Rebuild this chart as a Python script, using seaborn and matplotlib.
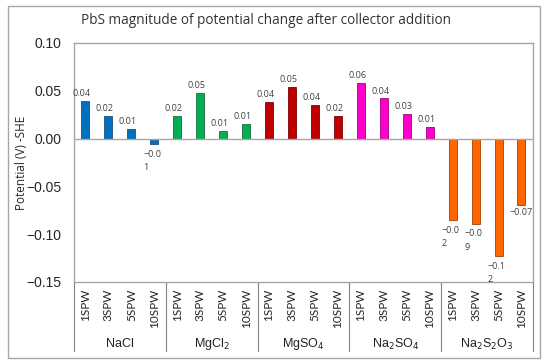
import matplotlib
matplotlib.use("Agg")
import matplotlib.pyplot as plt
from matplotlib.patches import Rectangle
import seaborn as sns
import pandas as pd

salts = ["NaCl", "MgCl$_2$", "MgSO$_4$", "Na$_2$SO$_4$", "Na$_2$S$_2$O$_3$"]
waters = ["1SPW", "3SPW", "5SPW", "10SPW"]
nacl = [0.039, 0.024, 0.0105, -0.006]
mgcl2 = [0.024, 0.048, 0.008, 0.015]
mgso4 = [0.038, 0.054, 0.035, 0.024]
na2so4 = [0.058, 0.042, 0.026, 0.0125]
na2s2o3 = [-0.085, -0.089, -0.123, -0.069]
labels = ["0.04", "0.02", "0.01", "\u22120.0\n1",
          "0.02", "0.05", "0.01", "0.01",
          "0.04", "0.05", "0.04", "0.02",
          "0.06", "0.04", "0.03", "0.01",
          "\u22120.0\n2", "\u22120.0\n9", "\u22120.1\n2", "\u22120.07"]
colors = ["#0070C0", "#00B050", "#C00000", "#FF00CC", "#FF6600"]
edges = ["#1F4E79", "#1E6B3A", "#7F0000", "#A0007F", "#A04000"]

values = nacl + mgcl2 + mgso4 + na2so4 + na2s2o3
df = pd.DataFrame({
    "pos": [f"{s}|{w}" for s in salts for w in waters],
    "salt": [s for s in salts for w in waters],
    "value": values,
})

sns.set_style("white")
plt.rcParams["font.family"] = ["Open Sans", "DejaVu Sans"]

fig = plt.figure(figsize=(5.5, 3.64), dpi=100)
ax = fig.add_axes([0.1345, 0.2253, 0.8345, 0.6567])

sns.barplot(data=df, x="pos", y="value", hue="salt", palette=colors,
            dodge=False, width=0.35, saturation=1, legend=False, ax=ax)
for i, bar in enumerate(ax.patches):
    bar.set_edgecolor(edges[i // 4])
    bar.set_linewidth(0.6)

ax.set_ylim(-0.15, 0.10)
ax.set_xlim(-0.5, len(values) - 0.5)
ax.set_yticks([0.10, 0.05, 0.00, -0.05, -0.10, -0.15])
ax.set_yticklabels(["0.10", "0.05", "0.00", "\u22120.05", "\u22120.10", "\u22120.15"],
                   family="Liberation Sans", fontsize=10)
ax.tick_params(axis="y", length=0, pad=9)
ax.axhline(0, color="#A6A6A6", lw=1)

ax.set_xticks(range(len(values)))
ax.set_xticklabels(waters * len(salts), rotation=90, fontsize=8.5, family="Lato")
ax.tick_params(axis="x", length=0, pad=5)
ax.set_xlabel("")
ax.set_ylabel("Potential (V) -SHE", fontsize=8.5)
ax.yaxis.set_label_coords(-46 / 459, 0.5)

for sp in ax.spines.values():
    sp.set_color("#A6A6A6")
    sp.set_linewidth(1)

for i, (v, t) in enumerate(zip(values, labels)):
    if v >= 0:
        ax.text(i - 0.15, v + 0.003, t, ha="center", va="bottom", fontsize=6.5, color="#404040")
    elif "\n" in t:
        ax.text(i - 0.1, v - 0.006, t, ha="center", va="top", fontsize=6.5,
                color="#404040", linespacing=1.6, multialignment="left")
    else:
        ax.text(i, v - 0.004, t, ha="center", va="top", fontsize=6.5, color="#404040")

trans = ax.get_xaxis_transform()
for k in range(len(salts) + 1):
    x = k * 4 - 0.5
    ax.plot([x, x], [0, -0.29], transform=trans, color="#808080", lw=0.8, clip_on=False)
for k, s in enumerate(salts):
    ax.text(k * 4 + 1.5, -0.26, s, transform=trans, ha="center", va="center",
            family="Liberation Sans", fontsize=9, color="#222222")

fig.text(266 / 550, 1 - 20 / 364,
         "PbS magnitude of potential change after collector addition",
         ha="center", va="center", fontsize=9.8, color="#333333")

fig.patches.append(Rectangle((8 / 550, 6 / 364), 532 / 550, 352 / 364,
                             transform=fig.transFigure, fill=False,
                             edgecolor="#A6A6A6", lw=1))

fig.savefig("out.png", dpi=100)
